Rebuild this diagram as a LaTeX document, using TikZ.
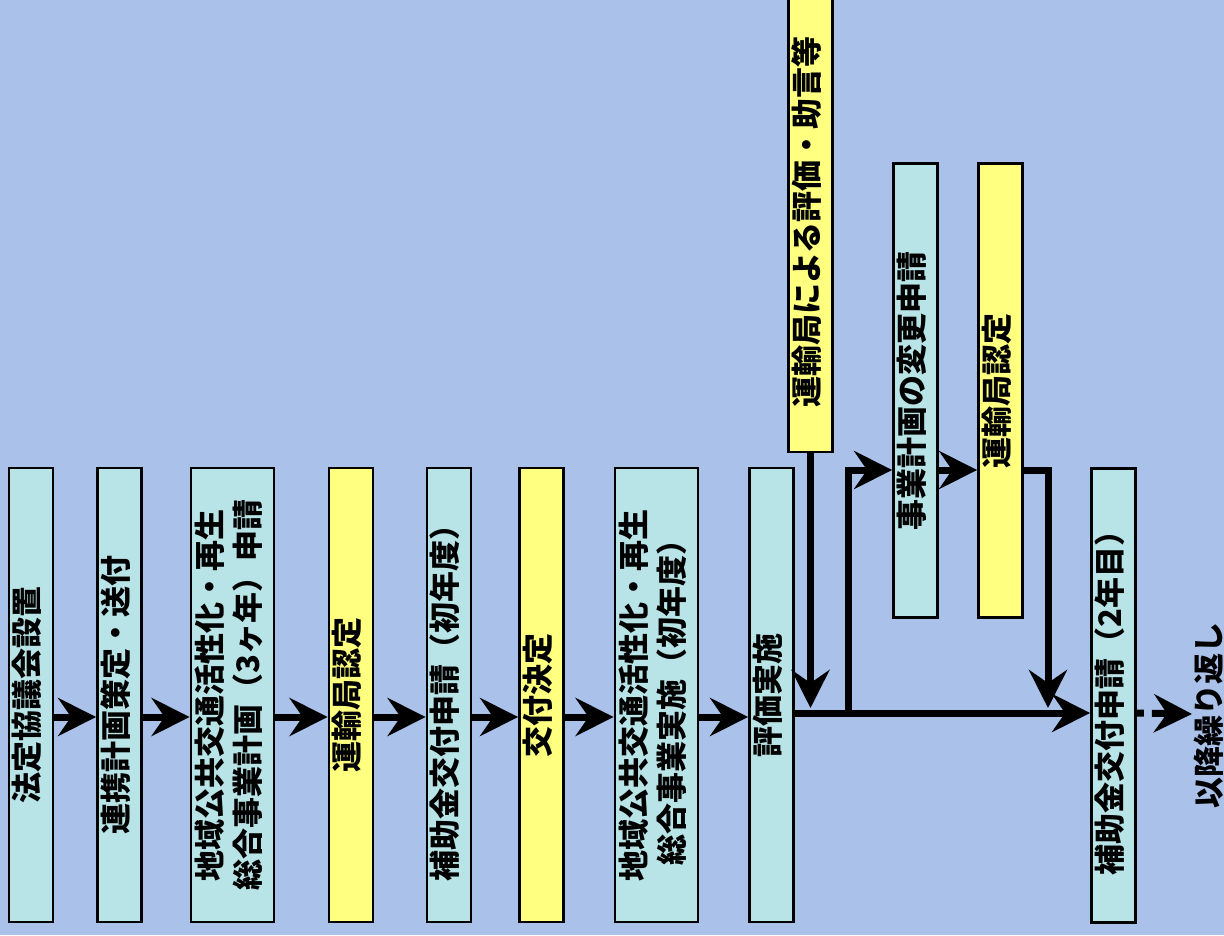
\documentclass[tikz,border=0pt]{standalone}
\usepackage{fontspec}
\usepackage{graphicx}
\usetikzlibrary{arrows.meta}
\newfontfamily\jpfont{Noto Sans CJK JP Black}
\definecolor{bgblue}{RGB}{170,193,234}
\definecolor{boxcyan}{RGB}{184,228,232}
\definecolor{boxyellow}{RGB}{255,255,128}
\newcommand{\vlabel}[1]{\rotatebox{90}{\begin{tabular}{@{}c@{}}#1\end{tabular}}}

\begin{document}
\begin{tikzpicture}[x=1pt, y=-1pt,
    box/.style={draw, line width=2.8pt, fill=boxcyan, inner sep=0pt,
        minimum width=44pt, minimum height=454pt,
        font=\jpfont\fontsize{31pt}{36pt}\selectfont},
    wide/.style={box, minimum width=83pt},
    yel/.style={box, fill=boxyellow},
    wire/.style={line width=7pt},
    flow/.style={wire, -{Stealth[length=38pt, width=38pt, inset=13pt]}}]
    \useasboundingbox (0,0) rectangle (1224,935);
    \fill[bgblue] (0,0) rectangle (1224,935);
    \clip (0,0) rectangle (1224,935);

    % first year
    \node[box] (council) at (31,695) {\vlabel{法定協議会設置}};
    \node[box] (linkplan) at (119.5,695) {\vlabel{連携計画策定・送付}};
    \node[wide] (plan) at (232.5,695) {\vlabel{地域公共交通活性化・再生\\総合事業計画（3ヶ年）申請}};
    \node[yel] (approve) at (351,695) {\vlabel{運輸局認定}};
    \node[box] (apply) at (449,695) {\vlabel{補助金交付申請（初年度）}};
    \node[yel] (grant) at (541.5,695) {\vlabel{交付決定}};
    \node[wide] (run) at (656.5,695) {\vlabel{地域公共交通活性化・再生\\総合事業実施（初年度）}};
    \node[box] (review) at (771.5,695) {\vlabel{評価実施}};

    % review and plan change
    \node[yel, minimum height=460pt] (advice) at (810.5,222) {\vlabel{運輸局による評価・助言等}};
    \node[box] (change) at (915.5,390.5) {\vlabel{事業計画の変更申請}};
    \node[yel] (reapprove) at (1000.5,390.5) {\vlabel{運輸局認定}};

    % second year
    \node[box] (apply2) at (1113.5,695.5) {\vlabel{補助金交付申請（2年目）}};
    \node[font=\jpfont\fontsize{31pt}{36pt}\selectfont, inner sep=0pt] (repeat) at (1209,715) {\rotatebox{90}{以降繰り返し}};

    \coordinate (chain) at (0,717);
    \coordinate (main) at (0,713);
    \coordinate (side) at (0,470);
    \coordinate (fork) at (848,716);
    \coordinate (merge) at (1048,708);
    \coordinate (next) at (1192,714);

    \foreach \a/\b in {council/linkplan, linkplan/plan, plan/approve, approve/apply,
                       apply/grant, grant/run, run/review} {
        \draw[flow] (\a.east |- chain) -- (\b.west |- chain);
    }
    \draw[flow] (review.east |- main) -- (apply2.west |- main);
    \draw[flow] (advice.south) -- ([yshift=5pt]advice.south |- main);
    \draw[flow] (fork) |- (change.west |- side);
    \draw[flow] (change.east |- side) -- (reapprove.west |- side);
    \draw[flow] (reapprove.east |- side) -| (merge);
    \draw[flow, dash pattern=on 7pt off 8pt on 40pt] (apply2.east |- main) -- (next);
\end{tikzpicture}
\end{document}
